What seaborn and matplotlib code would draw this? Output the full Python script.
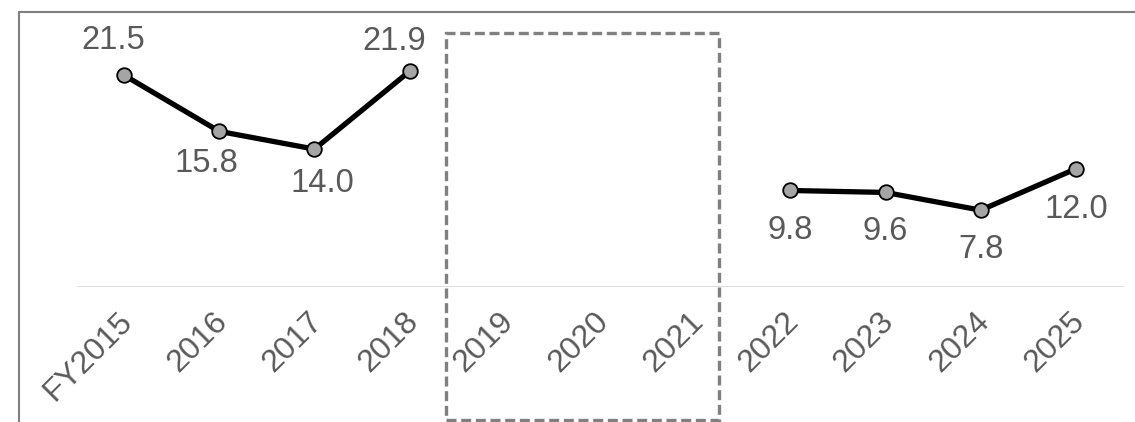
import numpy as np
import pandas as pd
import matplotlib
matplotlib.use('Agg')
import matplotlib.pyplot as plt
import matplotlib.transforms as mtransforms
from matplotlib.lines import Line2D
from matplotlib.patches import Rectangle
import seaborn as sns

years = ['FY2015', '2016', '2017', '2018', '2019', '2020', '2021',
         '2022', '2023', '2024', '2025']
values = [21.5, 15.8, 14.0, 21.9, np.nan, np.nan, np.nan, 9.8, 9.6, 7.8, 12.0]
gap_years = ['2019', '2020', '2021']

# label placement (dx, dy in pixels from the point, baseline of text)
label_offsets = [(-11, 26), (-13, -41), (8, -43), (-15, 21), None, None, None,
                 (0, -49), (0, -48), (0, -48), (0, -49)]

sns.set_style('white')
plt.rcParams['font.family'] = ['Liberation Sans', 'DejaVu Sans']

W, H, DPI = 1135, 422, 100
fig = plt.figure(figsize=(W / DPI, H / DPI), dpi=DPI)

ax_left, ax_right, ax_bottom, ax_top = 76.5, 1123.5, 287, 33
ax = fig.add_axes([ax_left / W, (H - ax_bottom) / H,
                   (ax_right - ax_left) / W, (ax_bottom - ax_top) / H])

df = pd.DataFrame({'idx': np.arange(len(years)), 'value': values})
df['segment'] = df['value'].isna().cumsum()
df = df.dropna()

ax.axhline(0, color='#D9D9D9', lw=1.3, zorder=1)

sns.lineplot(data=df, x='idx', y='value', units='segment', estimator=None,
             color='black', lw=3.8, marker='o', markersize=10.5,
             markerfacecolor='#A5A5A5', markeredgecolor='black',
             markeredgewidth=1.3, ax=ax, zorder=3)

px = 72 / DPI
for i, v in enumerate(values):
    if np.isnan(v):
        continue
    dx, dy = label_offsets[i]
    ax.annotate(f'{v:.1f}', (i, v), xytext=(dx * px, dy * px),
                textcoords='offset points', ha='center', va='baseline',
                fontsize=23.5, color='#595959')

scale = 9.85
ax.set_xlim(-0.5, len(years) - 0.5)
ax.set_ylim(0, (ax_bottom - ax_top) / scale)

ax.set_xticks(np.arange(len(years)))
ax.set_xticklabels(years, rotation=45, ha='right', va='center',
                   rotation_mode='anchor', fontsize=23, color='#595959')
ax.tick_params(axis='x', length=0, pad=30 * px)
shift = mtransforms.ScaledTranslation(4 / DPI, 0, fig.dpi_scale_trans)
for lab in ax.get_xticklabels():
    lab.set_transform(lab.get_transform() + shift)
ax.set_yticks([])
ax.set_xlabel('')
ax.set_ylabel('')
for s in ax.spines.values():
    s.set_visible(False)

# dashed box over the missing years
gi = [years.index(y) for y in gap_years]
x0 = gi[0] - 0.62
x1 = gi[-1] + 0.25
trans = mtransforms.blended_transform_factory(ax.transData, fig.transFigure)
box = Rectangle((x0, (H - 420) / H), x1 - x0, (420 - 33) / H, transform=trans,
                fill=False, edgecolor='#808080', lw=2.4, linestyle=(0, (3, 1.4)),
                clip_on=False, zorder=2)
ax.add_patch(box)

# outer frame (left and top edges)
fig.add_artist(Line2D([18.5 / W, 18.5 / W], [0, (H - 12) / H],
                      color='#808080', lw=1.5, transform=fig.transFigure))
fig.add_artist(Line2D([18.5 / W, 1], [(H - 12) / H, (H - 12) / H],
                      color='#808080', lw=1.5, transform=fig.transFigure))

fig.savefig('out.png', dpi=DPI)
